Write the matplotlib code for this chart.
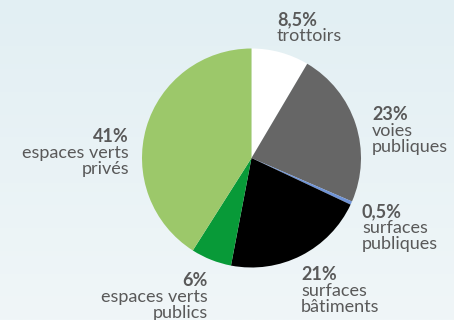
import numpy as np
import matplotlib
matplotlib.use("Agg")
import matplotlib.pyplot as plt
from matplotlib.colors import LinearSegmentedColormap

# part de chaque type de surface (%)
categories = ["trottoirs", "voies\npubliques", "surfaces\npubliques",
              "surfaces\nbâtiments", "espaces verts\npublics", "espaces verts\nprivés"]
values = [8.5, 23, 0.5, 21, 6, 41]
pct_labels = ["8,5%", "23%", "0,5%", "21%", "6%", "41%"]
colors = ["#ffffff", "#666666", "#6f93d6", "#000000", "#089a38", "#9cc86a"]

plt.rcParams["font.family"] = ["Lato", "DejaVu Sans"]
W, H = 454, 320
fig = plt.figure(figsize=(W / 100, H / 100), dpi=100)

# fond en dégradé
bg = fig.add_axes([0, 0, 1, 1], zorder=-1)
grad = np.linspace(0, 1, 256).reshape(-1, 1)
cmap = LinearSegmentedColormap.from_list("fond", ["#e2eff3", "#f0f6f8"])
bg.imshow(grad, aspect="auto", cmap=cmap, extent=[0, 1, 0, 1])
bg.axis("off")

cx, cy, r = 251.5, 158, 109.5
ax = fig.add_axes([(cx - r) / W, (H - cy - r) / H, 2 * r / W, 2 * r / H])
ax.pie(values, colors=colors, startangle=90, counterclock=False, radius=1)
ax.set_xlim(-1, 1)
ax.set_ylim(-1, 1)
ax.axis("off")

# ancrage des étiquettes : x et ligne de base du pourcentage (pixels, depuis le haut)
label_pos = [(277, 25, "left"), (372, 120, "left"), (362, 217, "left"),
             (301, 280, "left"), (208, 286, "right"), (129, 142, "right")]
pitch = 16
txt_color = "#595959"
for (x, y, ha), pct, cat in zip(label_pos, pct_labels, categories):
    fig.text(x / W, 1 - y / H, pct, ha=ha, va="baseline", fontsize=13,
             fontweight="bold", color=txt_color)
    for i, line in enumerate(cat.split("\n")):
        fig.text(x / W, 1 - (y + pitch * (i + 1)) / H, line, ha=ha,
                 va="baseline", fontsize=13, color=txt_color)

fig.savefig("out.png", dpi=100)
